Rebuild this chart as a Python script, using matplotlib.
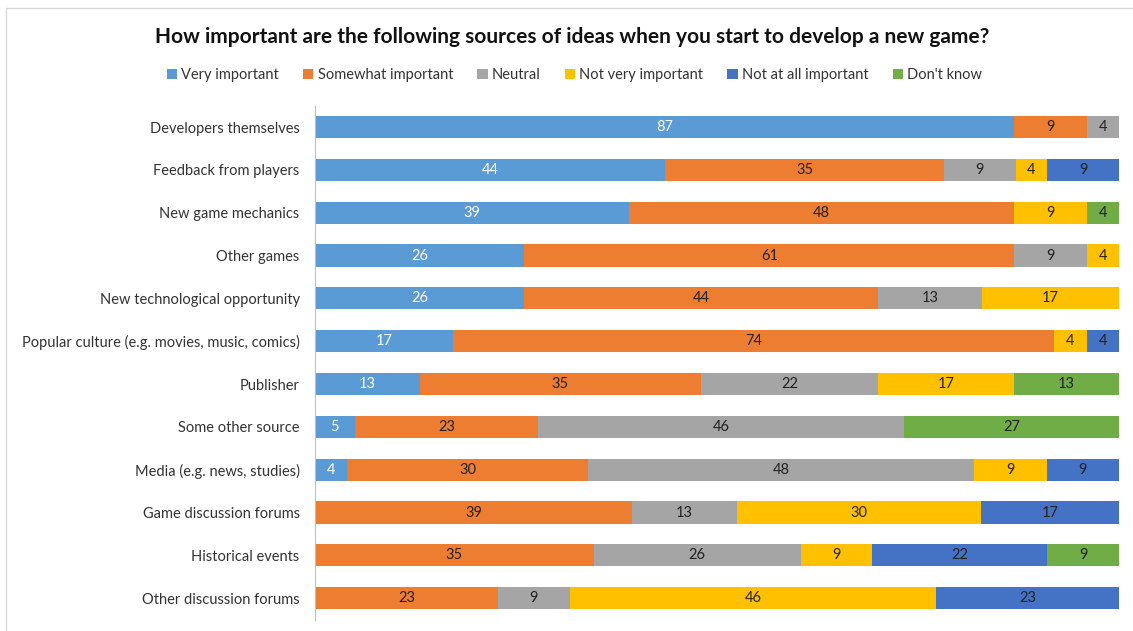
import matplotlib
matplotlib.use("Agg")
import matplotlib.pyplot as plt
from matplotlib.patches import Rectangle
import numpy as np

categories = [
    "Developers themselves",
    "Feedback from players",
    "New game mechanics",
    "Other games",
    "New technological opportunity",
    "Popular culture (e.g. movies, music, comics)",
    "Publisher",
    "Some other source",
    "Media (e.g. news, studies)",
    "Game discussion forums",
    "Historical events",
    "Other discussion forums",
]
series_names = ["Very important", "Somewhat important", "Neutral",
                "Not very important", "Not at all important", "Don't know"]
very_important =     [87, 44, 39, 26, 26, 17, 13, 5, 4, 0, 0, 0]
somewhat_important = [9, 35, 48, 61, 44, 74, 35, 23, 30, 39, 35, 23]
neutral =            [4, 9, 0, 9, 13, 0, 22, 46, 48, 13, 26, 9]
not_very_important = [0, 4, 9, 4, 17, 4, 17, 0, 9, 30, 9, 46]
not_at_all =         [0, 9, 0, 0, 0, 4, 0, 0, 9, 17, 22, 23]
dont_know =          [0, 0, 4, 0, 0, 0, 13, 27, 0, 0, 9, 0]

colors = ["#5B9BD5", "#ED7D31", "#A5A5A5", "#FFC000", "#4472C4", "#70AD47"]
label_colors = ["white", "#222222", "#222222", "#222222", "#222222", "#222222"]

plt.rcParams["font.family"] = ["Lato", "DejaVu Sans"]

W, H = 1133, 631
fig = plt.figure(figsize=(W / 100, H / 100), dpi=100)

# outer chart frame
fig.patches.append(Rectangle((6 / W, -0.01), 1.1, 1 - 8 / H + 0.01,
                             transform=fig.transFigure, fill=False,
                             edgecolor="#D9D9D9", linewidth=1.0))

ax = fig.add_axes([315 / W, 1 - 619.6 / H, (1119 - 315) / W, (619.6 - 105.6) / H])

data = np.array([very_important, somewhat_important, neutral,
                 not_very_important, not_at_all, dont_know], dtype=float)
totals = data.sum(axis=0)
shares = data / totals * 100

y = np.arange(len(categories))
left = np.zeros(len(categories))
for i, name in enumerate(series_names):
    ax.barh(y, shares[i], left=left, height=0.52, color=colors[i],
            label=name, edgecolor="none")
    for j in range(len(categories)):
        if data[i, j] > 0:
            ax.text(left[j] + shares[i, j] / 2, y[j], f"{int(data[i, j])}",
                    ha="center", va="center", fontsize=10.5,
                    color=label_colors[i])
    left += shares[i]

ax.set_xlim(0, 100)
ax.set_ylim(len(categories) - 0.5, -0.5)
ax.set_yticks(y)
ax.set_yticklabels(categories, fontsize=10.5, color="#333333")
ax.tick_params(axis="y", length=0, pad=11)
ax.set_xticks([])
for s in ["top", "right", "bottom"]:
    ax.spines[s].set_visible(False)
ax.spines["left"].set_color("#BFBFBF")

fig.text(0.5 * (157 + 987) / W, 1 - 37 / H,
         "How important are the following sources of ideas when you start to develop a new game?",
         ha="center", va="center", fontsize=15, fontweight="bold", color="#111111")

handles, labels = ax.get_legend_handles_labels()
fig.legend(handles, labels, loc="center", bbox_to_anchor=(0.5 * (167 + 982) / W, 1 - 75 / H),
           ncol=6, frameon=False, fontsize=10.5, handlelength=0.7, handleheight=0.7,
           handletextpad=0.3, columnspacing=1.65, labelcolor="#333333")

fig.savefig("out.png", dpi=100)
